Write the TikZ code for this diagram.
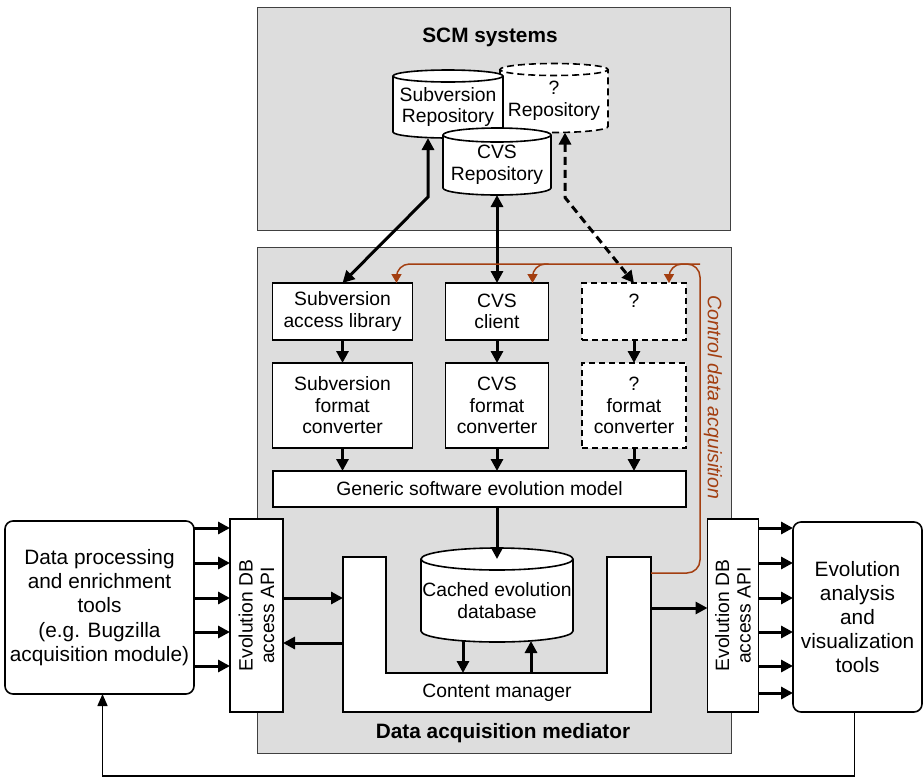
\documentclass[tikz,border=0pt]{standalone}
\usepackage{fontspec}
\setmainfont{Liberation Sans}
\usetikzlibrary{arrows.meta,backgrounds,calc}

\definecolor{panelgray}{RGB}{221,221,221}
\definecolor{ctlbrown}{RGB}{163,62,16}

% cylinder drawn behind a named text node
\newcommand{\drumshape}[3][]{%
  \begin{pgfonlayer}{background}
    \draw[outline,#1] let \p1=(#2.north west), \p2=(#2.south east) in
      (\x1,\y1+#3) -- (\x1,\y2)
      arc[start angle=180, end angle=360, x radius={(\x2-\x1)/2}, y radius=#3]
      -- (\x2,\y1+#3)
      arc[start angle=0, end angle=180, x radius={(\x2-\x1)/2}, y radius=#3]
      arc[start angle=180, end angle=360, x radius={(\x2-\x1)/2}, y radius=#3];
  \end{pgfonlayer}}

\begin{document}
\begin{tikzpicture}[x=1pt, y=-1pt,
    font=\fontsize{19.3}{21.5}\selectfont,
    panel/.style={draw=black!75, fill=panelgray, line width=1pt, inner sep=0pt, outer sep=0pt},
    box/.style={draw, fill=white, line width=1.6pt, align=center, inner sep=0pt, outer sep=0pt},
    dbox/.style={box, dash pattern=on 6pt off 4pt},
    tool/.style={box, rounded corners=8pt, font=\fontsize{20.8}{24.2}\selectfont},
    title/.style={font=\fontsize{20.8}{24}\selectfont\bfseries},
    drum/.style={align=center, inner sep=0pt, outer sep=0pt},
    outline/.style={draw, fill=white, line width=1.6pt},
    arr/.style={-{Triangle[length=12pt,width=12pt]}, line width=3pt},
    biarr/.style={{Triangle[length=12pt,width=12pt]}-{Triangle[length=12pt,width=12pt]}, line width=3pt},
    ctl/.style={draw=ctlbrown, line width=1.5pt, rounded corners=13pt, -{Triangle[length=9pt,width=10pt]}},
    feed/.style={line width=1.5pt, -{Triangle[length=12pt,width=10pt]}}]

  \useasboundingbox (0,0) rectangle (924,780);

  % grey panels
  \begin{pgfonlayer}{background}
    \node[panel, anchor=north west, minimum width=473, minimum height=223] (scm) at (257,7) {};
    \node[panel, anchor=north west, minimum width=474, minimum height=506] (mediator) at (257,247) {};
  \end{pgfonlayer}
  \node[title] (scmtitle) at (490,37) {SCM systems};
  \node[title] (medtitle) at (503,733) {Data acquisition mediator};

  % repositories
  \node[drum, minimum width=108, minimum height=51] (unkrepo) at (554,101) {?\\Repository};
  \node[drum, minimum width=110, minimum height=50] (svnrepo) at (448,107) {Subversion\\Repository};
  \node[drum, minimum width=108, minimum height=46] (cvsrepo) at (497,165) {CVS\\Repository};
  \drumshape[dash pattern=on 7pt off 4pt]{unkrepo}{6pt}
  \drumshape{svnrepo}{6pt}
  \drumshape{cvsrepo}{7pt}

  % access and converters
  \node[box, minimum width=140, minimum height=57] (svnacc) at (342.5,311.5) {Subversion\\access library};
  \node[box, minimum width=103, minimum height=57] (cvsacc) at (497,311.5) {CVS\\client};
  \node[dbox, minimum width=104, minimum height=57] (unkacc) at (634,311.5) {?\\\mbox{}};
  \node[box, minimum width=140, minimum height=85] (svnconv) at (342.5,405.5) {Subversion\\format\\converter};
  \node[box, minimum width=103, minimum height=85] (cvsconv) at (497,405.5) {CVS\\format\\converter};
  \node[dbox, minimum width=104, minimum height=85] (unkconv) at (634,405.5) {?\\format\\converter};
  \node[box, minimum width=413, minimum height=36] (model) at (479.5,489) {Generic software evolution model};

  \foreach \col in {svn,cvs,unk}{
    \draw[arr] (\col acc) -- (\col conv);
    \draw[arr] (\col conv.south) -- (\col conv.south |- model.north);
  }

  \draw[biarr] ([xshift=-20pt,yshift=-6pt]svnrepo.south) -- ++(0,59) -- (svnacc.north);
  \draw[biarr] ([yshift=-7pt]cvsrepo.south) -- (cvsacc.north);
  \draw[biarr, dash pattern=on 8pt off 5pt] ([xshift=11pt,yshift=-6pt]unkrepo.south) -- ++(0,65) -- (unkacc.north);

  % content manager and cache
  \draw[outline] (343,557) -- (343,712) -- (651,712) -- (651,557) -- (607,557) -- (607,673) -- (386,673) -- (386,557) -- cycle;
  \node[drum, minimum width=308, minimum height=39] (cm) at (497,692.5) {Content manager};
  \node[drum, minimum width=152, minimum height=61] (cachedb) at (497,600.5) {Cached evolution\\database};
  \drumshape{cachedb}{11pt}

  \draw[arr] (cachedb.north |- model.south) -- ([yshift=11pt]cachedb.north);
  \draw[arr] ([xshift=-34pt,yshift=-10pt]cachedb.south) -- ([xshift=-34pt]cachedb.south |- cm.north);
  \draw[arr] ([xshift=34pt]cachedb.south |- cm.north) -- ([xshift=34pt,yshift=-10pt]cachedb.south);

  % access APIs
  \node[box, minimum width=53, minimum height=193] (lapi) at (256.5,615.5) {};
  \node[rotate=90, align=center] (lapitext) at (lapi) {Evolution DB\\access API};
  \node[box, minimum width=51, minimum height=193] (rapi) at (733,615.5) {};
  \node[rotate=90, align=center] (rapitext) at (rapi) {Evolution DB\\access API};

  \coordinate (uin) at (343,598);
  \coordinate (uback) at (343,643);
  \coordinate (uout) at (651,608);
  \draw[arr] (lapi.east |- uin) -- (uin);
  \draw[arr] (uback) -- (lapi.east |- uback);
  \draw[arr] (uout) -- (rapi.west |- uout);

  % tools
  \node[tool, minimum width=189, minimum height=173] (ltools) at (99.5,607.5) {Data processing\\and enrichment\\tools\\(e.g. Bugzilla\\acquisition module)};
  \node[tool, minimum width=129, minimum height=190] (rtools) at (857.5,617) {Evolution\\analysis\\and\\visualization\\tools};

  \foreach \y in {528,563,598,632,666}
    \draw[arr] (ltools.east |- 0,\y) -- (lapi.west |- 0,\y);
  \foreach \y in {528,563,598,632,666,693}
    \draw[arr] (rapi.east |- 0,\y) -- (rtools.west |- 0,\y);

  \draw[feed] ([xshift=-3pt]rtools.south) -- ++(0,64) -| ([xshift=3pt]ltools.south);

  % control data acquisition
  \coordinate (uctl) at (651,573);
  \coordinate (ctltop) at (700,264);
  \coordinate (svnctl) at ([xshift=-16pt]svnacc.north east);
  \coordinate (cvsctl) at ([xshift=-16pt]cvsacc.north east);
  \coordinate (unkctl) at ([xshift=-17pt]unkacc.north east);
  \draw[ctl] (uctl) -| (ctltop) -| (svnctl);
  \draw[ctl] ([xshift=16pt]cvsctl |- ctltop) -| (cvsctl);
  \draw[ctl] (ctltop) -| (unkctl);
  \node[rotate=-90, text=ctlbrown, font=\fontsize{19.5}{22}\selectfont\itshape] (ctllabel) at (713,397) {Control data acquisition};
\end{tikzpicture}
\end{document}
